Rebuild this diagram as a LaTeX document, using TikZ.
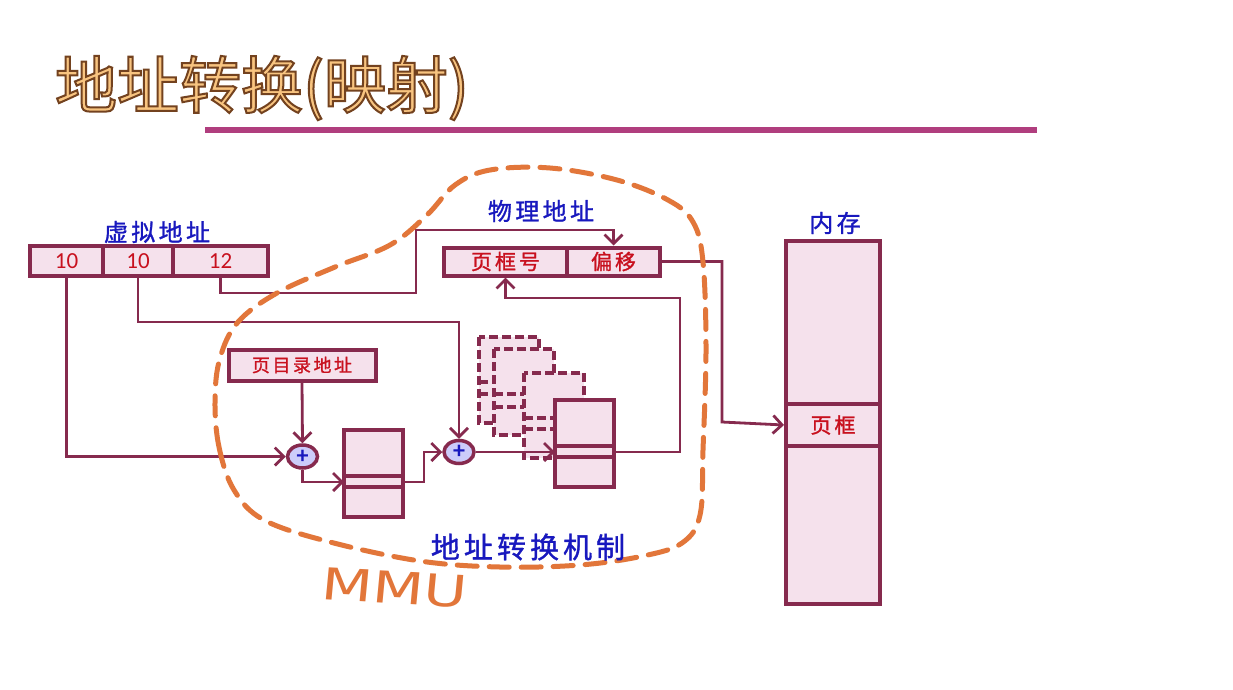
\documentclass[tikz,border=0pt]{standalone}
\usepackage{fontspec}
\setmainfont{Carlito}
\newfontfamily\cjk{Noto Sans CJK SC}
\newfontfamily\cjkls[LetterSpace=14, FakeBold=1.2]{Noto Sans CJK SC}
\newfontfamily\mmufont{DejaVu Sans}
\usetikzlibrary{arrows.meta,shapes.geometric,calc}
\definecolor{mar}{RGB}{134,42,78}
\definecolor{pinkf}{RGB}{245,225,236}
\definecolor{redt}{RGB}{200,16,30}
\definecolor{bluet}{RGB}{24,24,190}
\definecolor{orng}{RGB}{226,118,58}
\definecolor{plusf}{RGB}{204,204,250}
\definecolor{barc}{RGB}{176,62,126}
\definecolor{titlef}{RGB}{248,196,128}
\tikzset{
  cell/.style={draw=mar, line width=4pt, fill=pinkf, inner sep=0pt, text=redt},
  tbl/.style={draw=mar, line width=4pt, fill=pinkf},
  dtbl/.style={draw=mar, line width=4pt, fill=pinkf, dash pattern=on 9pt off 4pt},
  wire/.style={draw=mar, line width=2.8pt},
  arr/.style={wire, -{Straight Barb[length=9pt,width=18pt]}},
  adder/.style={ellipse, draw=mar, line width=3.5pt, fill=plusf, inner sep=0pt, minimum width=30pt, minimum height=23pt, text=bluet, font=\fontsize{24}{24}\selectfont\bfseries},
  lbl/.style={text=bluet, font=\fontsize{24}{24}\selectfont\cjkls, inner sep=0pt},
  ctext/.style={font=\fontsize{21}{21}\selectfont\cjkls},
  num/.style={font=\fontsize{23}{23}\selectfont},
}
\begin{document}
\begin{tikzpicture}[x=1pt,y=-1pt]
\path[use as bounding box, fill=white] (0,0) rectangle (1233,689);

% title
\node[inner sep=0pt, font=\fontsize{62}{62}\selectfont\cjk] (title) at (262,88)
  {\color{titlef}\special{pdf:literal direct 2 Tr 2 w 0.45 0.26 0.12 RG}地址转换(映射)\special{pdf:literal direct 0 Tr}};
\fill[barc] (205,127) rectangle (1037,133);

% virtual address
\node[cell, minimum width=73pt, minimum height=30pt, num] (v1) at (66.5,261) {10};
\node[cell, minimum width=70pt, minimum height=30pt, num] (v2) at (138,261) {10};
\node[cell, minimum width=95pt, minimum height=30pt, num] (v3) at (220.5,261) {12};
\node[lbl] (vlab) at (157,232) {虚拟地址};

% physical address
\node[cell, minimum width=123pt, minimum height=28pt, ctext] (p1) at (505.5,261.5) {页框号};
\node[cell, minimum width=93pt, minimum height=28pt, ctext] (p2) at (613.5,261.5) {偏移};
\node[lbl] (plab) at (541,211) {物理地址};

% page directory address
\node[cell, minimum width=147pt, minimum height=31pt, font=\fontsize{18}{18}\selectfont\cjkls] (dir) at (302,365) {页目录地址};

% adders
\node[adder] (plus1) at (302.5,456.5) {+};
\node[adder] (plus2) at (459,452) {+};

% table 1
\node[tbl, minimum width=59pt, minimum height=87pt, inner sep=0pt] (t1) at (373.5,473.5) {};
\draw[mar, line width=4pt] (344,476) -- (403,476) (344,487) -- (403,487);
\coordinate (t1in) at (344,482);
\coordinate (t1out) at (403,482);

% dashed tables
\draw[dtbl] (479,337) rectangle (539,423);
\draw[mar, line width=4pt, dash pattern=on 9pt off 4pt] (479,382) -- (539,382) (479,394) -- (539,394);
\draw[dtbl] (494,349) rectangle (554,435);
\draw[mar, line width=4pt, dash pattern=on 9pt off 4pt] (494,394) -- (554,394) (494,407) -- (554,407);
\draw[dtbl] (524,373) rectangle (584,458);
\draw[mar, line width=4pt, dash pattern=on 9pt off 4pt] (524,418) -- (584,418) (524,429) -- (584,429);

% table 2
\node[tbl, minimum width=59pt, minimum height=87pt, inner sep=0pt] (t2) at (584.5,443.5) {};
\draw[mar, line width=4pt] (555,446) -- (614,446) (555,457) -- (614,457);
\coordinate (t2in) at (555,452);
\coordinate (t2out) at (614,452);

% memory
\node[tbl, minimum width=94pt, minimum height=363pt, inner sep=0pt] (mem) at (833,422.5) {};
\node[cell, minimum width=94pt, minimum height=42pt, ctext] (frame) at (833,425) {页框};
\node[lbl] (mlab) at (835,223) {内存};

% helper coordinates
\coordinate (k2) at (459,322);
\coordinate (c1) at (416,293);
\coordinate (c2) at (416,230);
\coordinate (c3) at (722,422);
\coordinate (c4) at (424,452);
\coordinate (c5) at (680,298);

% connectors
\draw[arr] (v1.south) |- (plus1.west);
\draw[arr] (v2.south) |- (k2) -- (plus2.north);
\draw[arr] (v3.south) |- (c1) -- (c2) -| (p2.north);
\draw[arr] (p2.east) -| (c3) -- (frame.west);
\draw[arr] (dir.south) -- (plus1.north);
\draw[arr] (plus1.south) |- (t1in);
\draw[arr] (t1out) -| (c4) -- (plus2.west);
\draw[arr] (plus2.east) -- (t2in);
\draw[arr] (t2out) -| (c5) -| (p1.south);

% MMU boundary
\draw[orng, line width=5pt, dash pattern=on 20pt off 12pt, line cap=round]
  plot[smooth cycle, tension=0.6] coordinates {
  (215,400) (219,447) (234,490) (264,520) (330,542) (420,561) (500,567) (580,565)
  (643,556) (682,543) (700,515) (703,450) (706,350) (703,262) (693,222) (668,200)
  (617,180) (550,168) (490,170) (455,185) (427,215) (390,245) (335,267) (277,293)
  (238,322) (220,358)};

\node[lbl, font=\fontsize{29}{29}\selectfont\cjkls] (mech) at (528,547) {地址转换机制};
\node[text=orng, font=\fontsize{44}{44}\selectfont\mmufont, xscale=1.35, rotate=-4, inner sep=0pt] (mmu) at (395,588) {MMU};
\end{tikzpicture}
\end{document}
